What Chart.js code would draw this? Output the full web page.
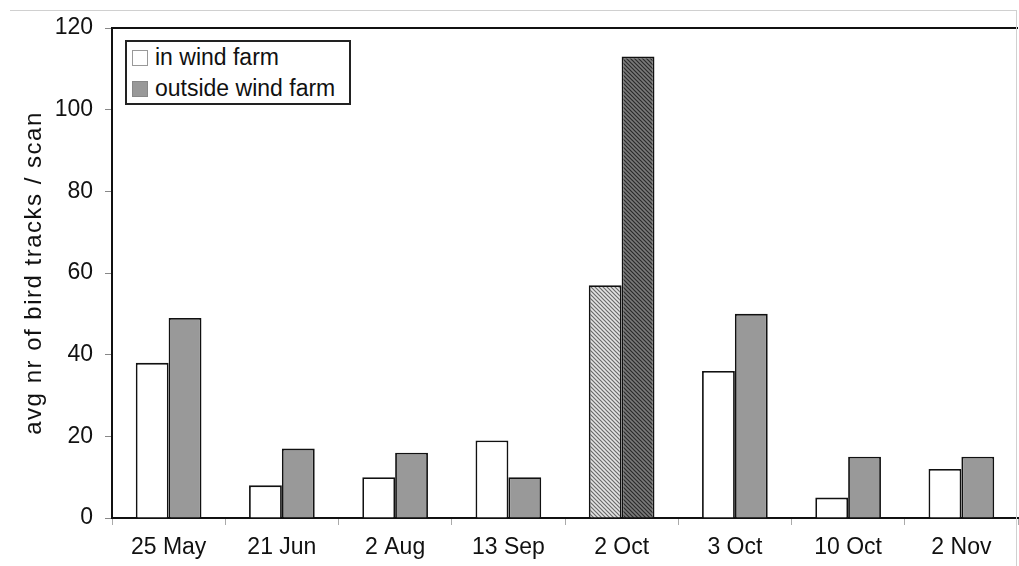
<!DOCTYPE html>
<html>
<head>
<meta charset="utf-8">
<script src="https://cdn.jsdelivr.net/npm/chart.js@4"></script>
<style>
  html, body { margin: 0; padding: 0; background: #fff; }
  #wrap { position: relative; width: 1019px; height: 566px; }
  #frame { position: absolute; left: 10px; top: 10px; width: 1006px; height: 560px;
           border-top: 1px solid #d0d0d0; border-right: 1px solid #d0d0d0; pointer-events: none; }
  #legend { position: absolute; left: 125px; top: 40px; width: 222px; height: 61px;
            border: 2px solid #222; background: #fff;
            font-family: "Liberation Sans", Arial, sans-serif; font-size: 23px; color: #111; }
  .item { position: absolute; left: 5px; height: 28px; line-height: 28px; white-space: nowrap; }
  .sw { display: inline-block; width: 16px; height: 16px; border: 1px solid #999;
        vertical-align: -1px; margin-right: 7px; box-sizing: border-box; }
</style>
</head>
<body>
<div id="wrap">
  <canvas id="c" width="1019" height="566"></canvas>
  <div id="frame"></div>
  <div id="legend">
    <div class="item" style="top:1px"><span class="sw" style="background:#fff"></span>in wind farm</div>
    <div class="item" style="top:32px"><span class="sw" style="background:#999;border-color:#888"></span>outside wind farm</div>
  </div>
</div>
<script>
const categories = ['25 May', '21 Jun', '2 Aug', '13 Sep', '2 Oct', '3 Oct', '10 Oct', '2 Nov'];
const inWindFarm = [38, 8, 10, 19, 57, 36, 5, 12];
const outsideWindFarm = [49, 17, 16, 10, 113, 50, 15, 15];
const seriesNames = ['in wind farm', 'outside wind farm'];
const yTicks = [0, 20, 40, 60, 80, 100, 120];
const yTitle = 'avg nr of bird tracks / scan';
const highlightCategory = '2 Oct';

const FONT = '"Liberation Sans", Arial, sans-serif';

function hatch(bg, line) {
  const p = document.createElement('canvas');
  p.width = 4; p.height = 4;
  const g = p.getContext('2d');
  g.fillStyle = bg; g.fillRect(0, 0, 4, 4);
  g.strokeStyle = line; g.lineWidth = 1.2;
  g.beginPath();
  g.moveTo(-1, -1); g.lineTo(5, 5);
  g.moveTo(-1, 3); g.lineTo(1, 5);
  g.moveTo(3, -1); g.lineTo(5, 1);
  g.stroke();
  return document.getElementById('c').getContext('2d').createPattern(p, 'repeat');
}
const lightHatch = hatch('#e4e4e4', '#6a6a6a');
const darkHatch = hatch('#7a7a7a', '#2a2a2a');

const frameBox = {
  id: 'frameBox',
  afterDatasetsDraw(chart) {
    const a = chart.chartArea, g = chart.ctx;
    g.save();
    g.strokeStyle = '#111'; g.lineWidth = 2;
    g.beginPath();
    g.moveTo(a.left, a.bottom); g.lineTo(a.left, a.top); g.lineTo(a.right, a.top);
    g.stroke();
    g.restore();
  }
};

const yTitlePlugin = {
  id: 'yTitlePlugin',
  afterDraw(chart) {
    const a = chart.chartArea, g = chart.ctx;
    g.save();
    g.translate(34, (a.top + a.bottom) / 2);
    g.rotate(-Math.PI / 2);
    g.font = '24px ' + FONT;
    if ('letterSpacing' in g) g.letterSpacing = '1.5px';
    g.fillStyle = '#111';
    g.textAlign = 'center';
    g.textBaseline = 'middle';
    g.fillText(yTitle, 0, 0);
    g.restore();
  }
};

const font = { family: FONT, size: 23 };

new Chart(document.getElementById('c'), {
  type: 'bar',
  data: {
    labels: categories,
    datasets: [
      {
        label: seriesNames[0], data: inWindFarm,
        backgroundColor: ctx => categories[ctx.dataIndex] === highlightCategory ? lightHatch : '#ffffff',
        borderColor: '#111', borderWidth: 1.8,
        categoryPercentage: 0.58, barPercentage: 1.0
      },
      {
        label: seriesNames[1], data: outsideWindFarm,
        backgroundColor: ctx => categories[ctx.dataIndex] === highlightCategory ? darkHatch : '#999999',
        borderColor: '#111', borderWidth: 1.8,
        categoryPercentage: 0.58, barPercentage: 1.0
      }
    ]
  },
  options: {
    responsive: false,
    animation: false,
    layout: { padding: { top: 28, right: 1, bottom: 0, left: 0 } },
    plugins: { legend: { display: false }, tooltip: { enabled: false } },
    scales: {
      x: {
        offset: true,
        afterFit(s) { s.height = 48; },
        grid: { offset: true, drawOnChartArea: false, drawTicks: true, tickLength: 7, color: '#aaa' },
        border: { display: true, color: '#111', width: 2 },
        ticks: { font: font, color: '#111', padding: 9, maxRotation: 0, autoSkip: false }
      },
      y: {
        min: 0, max: 120,
        afterFit(s) { s.width = 112; },
        afterBuildTicks(s) { s.ticks = yTicks.map(v => ({ value: v })); },
        grid: { drawOnChartArea: false, drawTicks: true, tickLength: 7, color: '#888' },
        border: { display: true, color: '#111', width: 2 },
        ticks: { font: font, color: '#111', padding: 12 },
        title: { display: false }
      }
    }
  },
  plugins: [frameBox, yTitlePlugin]
});
</script>
</body>
</html>
